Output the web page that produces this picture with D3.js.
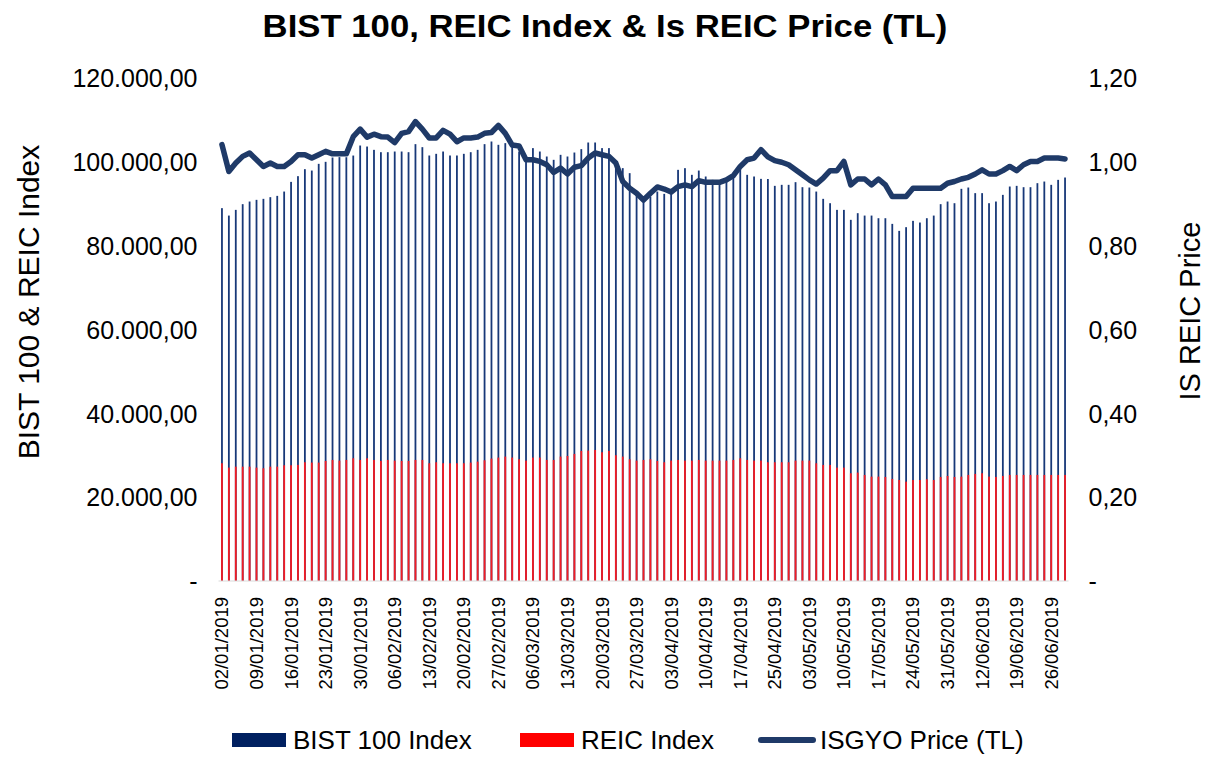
<!DOCTYPE html>
<html>
<head>
<meta charset="utf-8">
<script src="https://cdn.jsdelivr.net/npm/d3@7"></script>
<style>
  body { margin: 0; background: #fff; }
  text { font-family: 'Liberation Sans', Arial, sans-serif; fill: #000; }
</style>
</head>
<body>
<svg id="chart" width="1210" height="757"></svg>
<script>
// trading days, 02/01/2019 - 28/06/2019
const dates = [
  '02/01/2019','03/01/2019','04/01/2019','07/01/2019','08/01/2019','09/01/2019','10/01/2019','11/01/2019','14/01/2019','15/01/2019',
  '16/01/2019','17/01/2019','18/01/2019','21/01/2019','22/01/2019','23/01/2019','24/01/2019','25/01/2019','28/01/2019','29/01/2019',
  '30/01/2019','31/01/2019','01/02/2019','04/02/2019','05/02/2019','06/02/2019','07/02/2019','08/02/2019','11/02/2019','12/02/2019',
  '13/02/2019','14/02/2019','15/02/2019','18/02/2019','19/02/2019','20/02/2019','21/02/2019','22/02/2019','25/02/2019','26/02/2019',
  '27/02/2019','28/02/2019','01/03/2019','04/03/2019','05/03/2019','06/03/2019','07/03/2019','08/03/2019','11/03/2019','12/03/2019',
  '13/03/2019','14/03/2019','15/03/2019','18/03/2019','19/03/2019','20/03/2019','21/03/2019','22/03/2019','25/03/2019','26/03/2019',
  '27/03/2019','28/03/2019','29/03/2019','01/04/2019','02/04/2019','03/04/2019','04/04/2019','05/04/2019','08/04/2019','09/04/2019',
  '10/04/2019','11/04/2019','12/04/2019','15/04/2019','16/04/2019','17/04/2019','18/04/2019','19/04/2019','22/04/2019','24/04/2019',
  '25/04/2019','26/04/2019','29/04/2019','30/04/2019','02/05/2019','03/05/2019','06/05/2019','07/05/2019','08/05/2019','09/05/2019',
  '10/05/2019','13/05/2019','14/05/2019','15/05/2019','16/05/2019','17/05/2019','20/05/2019','21/05/2019','22/05/2019','23/05/2019',
  '24/05/2019','27/05/2019','28/05/2019','29/05/2019','30/05/2019','31/05/2019','03/06/2019','04/06/2019','10/06/2019','11/06/2019',
  '12/06/2019','13/06/2019','14/06/2019','17/06/2019','18/06/2019','19/06/2019','20/06/2019','21/06/2019','24/06/2019','25/06/2019',
  '26/06/2019','27/06/2019','28/06/2019'
];

const bist100 = [
  88950, 87180, 88540, 89900, 90530, 90930, 91170, 91570, 91880, 92910,
  95220, 96580, 98250, 97920, 99520, 100000, 101030, 101120, 101100, 101500,
  103890, 103650, 102860, 102300, 102300, 102460, 102460, 102300, 104220, 103500,
  101510, 101910, 102460, 101510, 101510, 101910, 102300, 102860, 104220, 104850,
  104060, 104460, 103650, 102460, 100480, 103270, 102460, 101270, 100480, 101670,
  101270, 102220, 103030, 104610, 104610, 103270, 103270, 99690, 98500, 97300,
  92120, 90530, 91700, 92910, 92360, 92360, 98090, 98490, 96900, 97920,
  96500, 95700, 95300, 95700, 96500, 98330, 96900, 96500, 95940, 95900,
  94270, 94510, 94510, 95150, 93950, 93870, 92910, 91170, 90130, 88540,
  88540, 86160, 87750, 87180, 87180, 86550, 86550, 85200, 83530, 84410,
  85920, 85520, 86550, 87180, 89900, 90530, 90130, 93560, 93870, 92530,
  92530, 90130, 90530, 92120, 94110, 94270, 93950, 93950, 94910, 95300,
  94510, 95700, 96260
];

const reic = [
  28090, 27050, 27280, 27280, 27280, 27050, 26890, 27280, 27280, 27610,
  27610, 27690, 28330, 28250, 28250, 28640, 28880, 28720, 28880, 29280,
  28880, 29280, 28880, 28640, 28880, 28720, 28640, 28640, 28880, 28880,
  28090, 28330, 28090, 28090, 28090, 28090, 28250, 28480, 28800, 29200,
  29440, 29680, 29440, 29040, 28720, 29440, 29440, 28880, 28880, 29680,
  29830, 30310, 31030, 31110, 31260, 30710, 31030, 30000, 29680, 29040,
  28720, 28880, 29040, 28640, 28330, 28720, 28880, 28720, 28720, 28880,
  28720, 28720, 28720, 28720, 28880, 29280, 28880, 28720, 28720, 28330,
  28330, 28330, 28330, 28720, 28720, 28720, 28090, 27690, 27690, 27050,
  27050, 25700, 25860, 25300, 24900, 24900, 24820, 24340, 24100, 23700,
  24100, 24100, 24260, 24100, 24820, 25060, 24820, 24900, 25300, 25540,
  25700, 24900, 24820, 25060, 25300, 25300, 25300, 25300, 25300, 25300,
  25300, 25300, 25300
];

const isgyo = [
  1.041, 0.977, 0.997, 1.013, 1.021, 1.005, 0.989, 0.997, 0.989, 0.989,
  1.001, 1.017, 1.017, 1.009, 1.017, 1.025, 1.019, 1.019, 1.019, 1.060,
  1.078, 1.059, 1.066, 1.060, 1.059, 1.046, 1.068, 1.072, 1.096, 1.078,
  1.057, 1.057, 1.075, 1.066, 1.048, 1.057, 1.057, 1.059, 1.068, 1.070,
  1.087, 1.068, 1.040, 1.038, 1.005, 1.005, 1.001, 0.993, 0.975, 0.985,
  0.971, 0.987, 0.991, 1.009, 1.021, 1.017, 1.013, 0.997, 0.953, 0.937,
  0.925, 0.909, 0.925, 0.940, 0.935, 0.928, 0.941, 0.945, 0.941, 0.955,
  0.951, 0.951, 0.951, 0.957, 0.967, 0.989, 1.005, 1.009, 1.029, 1.012,
  1.003, 0.999, 0.993, 0.981, 0.969, 0.957, 0.947, 0.961, 0.979, 0.979,
  1.001, 0.945, 0.959, 0.959, 0.945, 0.959, 0.945, 0.917, 0.917, 0.917,
  0.937, 0.937, 0.937, 0.937, 0.937, 0.949, 0.953, 0.959, 0.963, 0.971,
  0.981, 0.971, 0.971, 0.979, 0.989, 0.979, 0.993, 1.001, 1.001, 1.009,
  1.009, 1.009, 1.007
];

const leftTicks = [0, 20000, 40000, 60000, 80000, 100000, 120000];
const rightTicks = [0, 0.2, 0.4, 0.6, 0.8, 1.0, 1.2];
const xTickDates = dates.filter((d, i) => i % 5 === 0);

const title = 'BIST 100, REIC Index & Is REIC Price (TL)';
const leftTitle = 'BIST 100 & REIC Index';
const rightTitle = 'IS REIC Price';
const legendItems = [
  { name: 'BIST 100 Index', color: '#002060', type: 'bar' },
  { name: 'REIC Index', color: '#ff0000', type: 'bar' },
  { name: 'ISGYO Price (TL)', color: '#1f3a68', type: 'line' }
];

const plot = { left: 218.5, right: 1068.5, top: 78, bottom: 581 };
const svg = d3.select('#chart');

const tr = d3.formatLocale({ decimal: ',', thousands: '.', grouping: [3], currency: ['', ''] });
const fmtBig = tr.format(',.2f');
const fmtSmall = tr.format('.2f');

const x = d3.scaleBand()
  .domain(dates)
  .range([plot.left, plot.right])
  .paddingInner(0.74)
  .paddingOuter(0.37);
const yL = d3.scaleLinear().domain([0, 120000]).range([plot.bottom, plot.top]);
const yR = d3.scaleLinear().domain([0, 1.2]).range([plot.bottom, plot.top]);

// title
svg.append('g')
  .attr('transform', 'translate(605, 37) scale(1.12, 1)')
  .append('text')
  .attr('text-anchor', 'middle')
  .style('font-size', '31px')
  .style('font-weight', 'bold')
  .text(title);

// bars
svg.append('g').selectAll('rect')
  .data(dates)
  .enter()
  .append('rect')
  .attr('x', d => x(d))
  .attr('width', x.bandwidth())
  .attr('y', (d, i) => yL(bist100[i]))
  .attr('height', (d, i) => yL(0) - yL(bist100[i]))
  .attr('fill', '#183878');

svg.append('g').selectAll('rect')
  .data(dates)
  .enter()
  .append('rect')
  .attr('x', d => x(d))
  .attr('width', x.bandwidth())
  .attr('y', (d, i) => yL(reic[i]))
  .attr('height', (d, i) => yL(0) - yL(reic[i]))
  .attr('fill', '#f41c24');

// baseline
svg.append('line')
  .attr('x1', plot.left).attr('x2', plot.right)
  .attr('y1', plot.bottom).attr('y2', plot.bottom)
  .attr('stroke', '#d9d9d9')
  .attr('stroke-width', 1);

// price line
const line = d3.line()
  .x((d, i) => x(dates[i]) + x.bandwidth() / 2)
  .y(d => yR(d));

svg.append('path')
  .datum(isgyo)
  .attr('d', line)
  .attr('fill', 'none')
  .attr('stroke', '#1f3a68')
  .attr('stroke-width', 5.5)
  .attr('stroke-linejoin', 'round')
  .attr('stroke-linecap', 'round');

// axes
const leftAxis = svg.append('g')
  .attr('transform', `translate(${plot.left}, 0)`)
  .call(d3.axisLeft(yL).tickValues(leftTicks).tickSize(0).tickPadding(21)
    .tickFormat(d => d === 0 ? '-' : fmtBig(d)));

const rightAxis = svg.append('g')
  .attr('transform', `translate(${plot.right}, 0)`)
  .call(d3.axisRight(yR).tickValues(rightTicks).tickSize(0).tickPadding(20)
    .tickFormat(d => d === 0 ? '-' : fmtSmall(d)));

[leftAxis, rightAxis].forEach(g => {
  g.select('.domain').remove();
  g.selectAll('text')
    .attr('dy', '0.35em')
    .style('font-size', '25px')
    .style('font-family', "'Liberation Sans', Arial, sans-serif")
    .attr('fill', '#000');
});

const bottomAxis = svg.append('g')
  .attr('transform', `translate(0, ${plot.bottom})`)
  .call(d3.axisBottom(x).tickValues(xTickDates).tickSize(0));
bottomAxis.select('.domain').remove();
bottomAxis.selectAll('text')
  .attr('transform', 'rotate(-90)')
  .attr('x', -16)
  .attr('y', 0)
  .attr('dy', '0.35em')
  .style('text-anchor', 'end')
  .style('font-size', '18.5px')
  .style('font-family', "'Liberation Sans', Arial, sans-serif")
  .attr('fill', '#000');

// axis titles
svg.append('text')
  .attr('transform', 'translate(39, 302) rotate(-90)')
  .attr('text-anchor', 'middle')
  .style('font-size', '30px')
  .text(leftTitle);

svg.append('text')
  .attr('transform', 'translate(1200, 311) rotate(-90)')
  .attr('text-anchor', 'middle')
  .style('font-size', '29px')
  .text(rightTitle);

// legend
const legendX = [232, 520, 758];
const legend = svg.append('g').attr('class', 'legend');
legendItems.forEach((item, i) => {
  const g = legend.append('g').attr('transform', `translate(${legendX[i]}, 740)`);
  if (item.type === 'bar') {
    g.append('rect')
      .attr('x', 0).attr('y', -7)
      .attr('width', 54).attr('height', 14)
      .attr('fill', item.color);
  } else {
    g.append('line')
      .attr('x1', 3).attr('x2', 55)
      .attr('y1', 0).attr('y2', 0)
      .attr('stroke', item.color)
      .attr('stroke-width', 6)
      .attr('stroke-linecap', 'round');
  }
  g.append('text')
    .attr('x', item.type === 'bar' ? 61 : 62)
    .attr('y', 0)
    .attr('dy', '0.35em')
    .style('font-size', '26px')
    .text(item.name);
});
</script>
</body>
</html>
